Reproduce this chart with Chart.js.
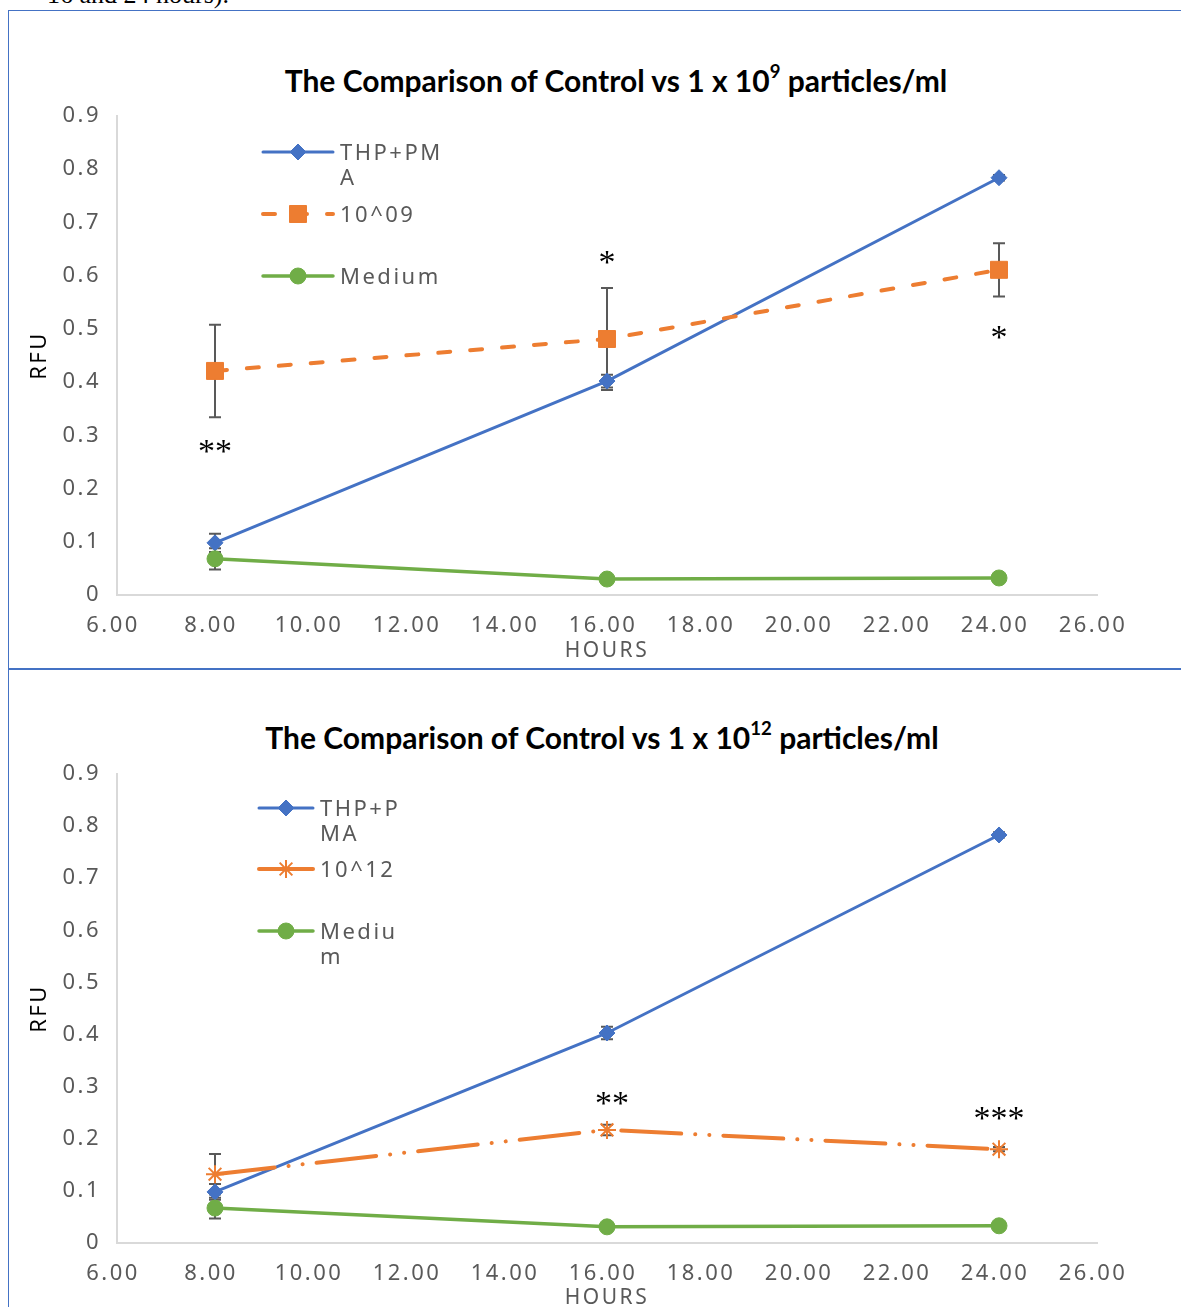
<!DOCTYPE html>
<html>
<head>
<meta charset="utf-8">
<script src="https://cdn.jsdelivr.net/npm/chart.js@4.4.1/dist/chart.umd.min.js"></script>
<style>
  body { margin: 0; background: #fff; width: 1181px; height: 1307px; overflow: hidden; position: relative; }
  .cut { position: absolute; left: 47px; top: -18px; font: 26px/26px "Liberation Serif"; color: #000; white-space: nowrap; }
  .box1 { position: absolute; left: 8px; top: 10px; width: 1200px; height: 658px; border-left: 1px solid #4472c4; border-top: 1px solid #4472c4; }
  .sep { position: absolute; left: 8px; top: 668px; width: 1200px; height: 2px; background: #4472c4; }
  .box2 { position: absolute; left: 8px; top: 670px; width: 1px; height: 700px; background: #4472c4; }
  .title { position: absolute; font: bold 30px Lato; color: #000; white-space: nowrap; transform: translate(-50%, -50%); }
  .title sup { font-size: 0.62em; position: relative; top: -0.12em; vertical-align: top; }
  canvas { position: absolute; }
</style>
</head>
<body>
<div class="cut">16 and 24 hours).</div>
<div class="box1"></div>
<div class="sep"></div>
<div class="box2"></div>
<div class="title" style="left:616px;top:80px">The Comparison of Control vs 1 x 10<sup>9</sup> particles/ml</div>
<div class="title" style="left:602px;top:737px">The Comparison of Control vs 1 x 10<sup>12</sup> particles/ml</div>
<canvas id="c1" style="left:10px;top:12px"></canvas>
<canvas id="c2" style="left:10px;top:672px"></canvas>

<script>
// hours on the x axis
var hours = [8, 16, 24];

// chart 1 : control vs 10^9
var thp1 = [0.098, 0.402, 0.784];
var thp1Err = [0.017, 0.012, 0.005];
var e09 = [0.421, 0.481, 0.611];
var e09Err = [0.087, 0.096, 0.05];
var med1 = [0.068, 0.030, 0.032];
var med1Err = [0.02, 0.003, 0.003];

// chart 2 : control vs 10^12
var thp2 = [0.098, 0.403, 0.783];
var thp2Err = [0.015, 0.012, 0.005];
var e12 = [0.132, 0.217, 0.180];
var e12Err = [0.039, 0.01, 0.004];
var med2 = [0.067, 0.031, 0.033];
var med2Err = [0.02, 0.003, 0.003];

// significance marks
var marks1X = [8, 16, 24];
var marks1Y = [0.27, 0.626, 0.485];
var marks1Text = ["**", "*", "*"];
var marks2X = [16.1, 24];
var marks2Y = [0.268, 0.24];
var marks2Text = ["**", "***"];

var BLUE = "#4472c4", ORANGE = "#ed7d31", GREEN = "#70ad47", GREY = "#595959";
var FONT = "Noto Sans";

function pts(vals) {
  return vals.map(function (v, i) { return { x: hours[i], y: v }; });
}

// spacing like the original office font
var spacing = {
  id: "spacing",
  beforeUpdate: function (chart) { chart.ctx.letterSpacing = "2.5px"; },
  beforeDraw: function (chart) { chart.ctx.letterSpacing = "2.5px"; }
};

// error bars, under the lines
var errorBars = {
  id: "errorBars",
  beforeDatasetsDraw: function (chart) {
    var ctx = chart.ctx, xs = chart.scales.x, ys = chart.scales.y;
    ctx.save();
    ctx.strokeStyle = GREY;
    ctx.lineWidth = 2;
    chart.data.datasets.forEach(function (ds) {
      ds.data.forEach(function (p, i) {
        var e = ds.err[i];
        var x = xs.getPixelForValue(p.x);
        var y1 = ys.getPixelForValue(p.y + e), y2 = ys.getPixelForValue(p.y - e);
        ctx.beginPath();
        ctx.moveTo(x, y1); ctx.lineTo(x, y2);
        ctx.moveTo(x - 6, y1); ctx.lineTo(x + 6, y1);
        ctx.moveTo(x - 6, y2); ctx.lineTo(x + 6, y2);
        ctx.stroke();
      });
    });
    ctx.restore();
  }
};

// legend inside the plot + asterisks
var extras = {
  id: "extras",
  afterDatasetsDraw: function (chart, args, opts) {
    var ctx = chart.ctx, xs = chart.scales.x, ys = chart.scales.y;
    ctx.save();
    ctx.font = "22px " + FONT;
    ctx.textBaseline = "middle";
    chart.data.datasets.forEach(function (ds, i) {
      var L = opts.legend[i];
      ctx.save();
      ctx.strokeStyle = ds.borderColor;
      ctx.lineWidth = ds.borderWidth;
      ctx.lineCap = "round";
      ctx.setLineDash(L.dash || []);
      ctx.beginPath();
      ctx.moveTo(L.x1, L.y); ctx.lineTo(L.x2, L.y);
      ctx.stroke();
      ctx.restore();
      ctx.fillStyle = ds.pointBackgroundColor;
      ctx.strokeStyle = ds.pointBorderColor;
      ctx.lineWidth = ds.pointBorderWidth;
      Chart.helpers.drawPoint(ctx, {
        pointStyle: ds.pointStyle, radius: ds.pointRadius, borderWidth: ds.pointBorderWidth, rotation: 0
      }, (L.x1 + L.x2) / 2, L.y);
      ctx.fillStyle = GREY;
      L.lines.forEach(function (t, k) {
        ctx.fillText(t, L.x2 + 7, L.y + 2 + k * 25);
      });
    });
    ctx.letterSpacing = "0px";
    ctx.font = "34px 'Liberation Serif'";
    ctx.fillStyle = "#000";
    ctx.textAlign = "center";
    opts.marksText.forEach(function (t, i) {
      ctx.fillText(t, xs.getPixelForValue(opts.marksX[i]), ys.getPixelForValue(opts.marksY[i]) + 2);
    });
    ctx.restore();
  }
};

function makeChart(id, w, h, padTop, xHeight, titlePad, sets, legend, mX, mY, mT) {
  var cv = document.getElementById(id);
  cv.style.width = w + "px";
  cv.style.height = h + "px";
  return new Chart(cv, {
    type: "line",
    data: { datasets: sets },
    plugins: [spacing, errorBars, extras],
    options: {
      responsive: false,
      animation: false,
      devicePixelRatio: 1,
      layout: { padding: { left: 10, right: 84, top: padTop, bottom: 0 } },
      plugins: {
        legend: { display: false },
        tooltip: { enabled: false },
        extras: { legend: legend, marksX: mX, marksY: mY, marksText: mT }
      },
      scales: {
        x: {
          type: "linear", min: 6, max: 26,
          grid: { display: false, drawTicks: false },
          border: { display: true, color: "#d9d9d9", width: 2 },
          ticks: { stepSize: 2, padding: 18, labelOffset: -4, color: GREY, font: { family: FONT, size: 22 },
            callback: function (v) { return v.toFixed(2); } },
          title: { display: true, text: "HOURS", color: GREY, font: { family: FONT, size: 21 },
            padding: { top: 0, bottom: titlePad } },
          afterFit: function (s) { s.height = xHeight; }
        },
        y: {
          min: 0, max: 0.9,
          grid: { display: false, drawTicks: false },
          border: { display: true, color: "#d9d9d9", width: 2 },
          ticks: { stepSize: 0.1, padding: 16, color: GREY, font: { family: FONT, size: 22 },
            callback: function (v) { return v === 0 ? "0" : v.toFixed(1); } },
          title: { display: true, text: "RFU", color: "#000", font: { family: FONT, size: 22 },
            padding: { top: 7, bottom: 0 } },
          afterFit: function (s) { s.width = 97; }
        }
      }
    }
  });
}

function line(label, vals, err, color, width, style, radius, dash, order) {
  return {
    label: label, data: pts(vals), err: err, order: order,
    borderColor: color, borderWidth: width, borderDash: dash || [], borderCapStyle: "round",
    pointStyle: style, pointRadius: radius,
    pointBackgroundColor: style === "star" ? "rgba(0,0,0,0)" : color,
    pointBorderColor: color, pointBorderWidth: style === "star" ? 2 : 1,
    fill: false, tension: 0
  };
}

makeChart("c1", 1171, 655, 104, 72, 3, [
  line("THP+PMA", thp1, thp1Err, BLUE, 3, "rectRot", 8, null, 3),
  line("10^09", e09, e09Err, ORANGE, 4, "rect", 12, [12, 20], 2),
  line("Medium", med1, med1Err, GREEN, 3.5, "circle", 8, null, 1)
], [
  { x1: 253, x2: 323, y: 140, lines: ["THP+PM", "A"] },
  { x1: 253, x2: 323, y: 202, lines: ["10^09"], dash: [12, 20] },
  { x1: 253, x2: 323, y: 264, lines: ["Medium"] }
], marks1X, marks1Y, marks1Text);

makeChart("c2", 1171, 635, 102, 64, -4, [
  line("THP+PMA", thp2, thp2Err, BLUE, 3, "rectRot", 8, null, 3),
  line("10^12", e12, e12Err, ORANGE, 4, "star", 9, [60, 14, 0.1, 14, 0.1, 14], 2),
  line("Medium", med2, med2Err, GREEN, 3.5, "circle", 8, null, 1)
], [
  { x1: 249, x2: 303, y: 136, lines: ["THP+P", "MA"] },
  { x1: 249, x2: 303, y: 197, lines: ["10^12"] },
  { x1: 249, x2: 303, y: 259, lines: ["Mediu", "m"] }
], marks2X, marks2Y, marks2Text);
</script>
</body>
</html>
